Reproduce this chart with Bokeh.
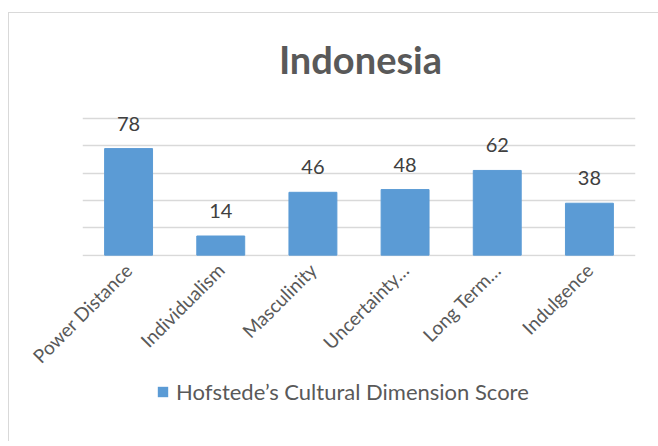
from bokeh.plotting import figure
from bokeh.models import (ColumnDataSource, Range1d, FactorRange, LabelSet, Label,
                          Legend, LegendItem, FixedTicker, Grid)
from bokeh.layouts import column
from bokeh.core.properties import value
from bokeh.embed import file_html
from bokeh.resources import INLINE
import math

categories = ["Power Distance", "Individualism", "Masculinity",
              "Uncertainty…", "Long Term…", "Indulgence"]
scores = [78, 14, 46, 48, 62, 38]
grid_ticks = [0, 20, 40, 60, 80, 100]
series_name = "Hofstede’s Cultural Dimension Score"
title_text = "Indonesia"

FONT = "Lato"
BAR = "#5b9bd5"
TXT = "#595959"

src = ColumnDataSource(dict(cat=categories, val=scores,
                            lab=[str(v) for v in scores]))

# main chart (frame reaches the top of the canvas; title lives inside it)
p = figure(width=650, height=366, x_range=FactorRange(*categories),
           y_range=Range1d(-1, 176.9), y_axis_type=None,
           output_backend="svg", toolbar_location=None,
           min_border_left=73, min_border_right=24,
           min_border_top=0, min_border_bottom=123)
p.outline_line_color = None
p.background_fill_color = "white"
p.border_fill_color = "white"
p.xgrid.grid_line_color = None

p.add_layout(Grid(dimension=1, ticker=FixedTicker(ticks=grid_ticks),
                  grid_line_color="#d9d9d9", grid_line_width=1.3))

r = p.vbar(x="cat", top="val", width=0.52, source=src, color=BAR)

p.xaxis.axis_line_color = None
p.xaxis.major_tick_line_color = None
p.xaxis.minor_tick_line_color = None
p.xaxis.major_label_orientation = math.pi / 4
p.xaxis.major_label_text_font = FONT
p.xaxis.major_label_text_font_size = "19px"
p.xaxis.major_label_text_color = TXT
p.xaxis.major_label_standoff = 4

labels = LabelSet(x="cat", y="val", text="lab", source=src, y_offset=18,
                  text_align="center", text_baseline="alphabetic",
                  text_font=value(FONT), text_font_size=value("20px"),
                  text_color="#404040")
p.add_layout(labels)

p.add_layout(Label(x=3.016, y=143.7, text=title_text, text_align="center",
                   text_baseline="alphabetic", text_font=FONT,
                   text_font_style="bold", text_font_size="38px",
                   text_color=TXT))

# legend strip
p2 = figure(width=650, height=62, x_range=Range1d(0, 1), y_range=Range1d(0, 1),
            x_axis_type=None, y_axis_type=None,
            output_backend="svg", toolbar_location=None,
            min_border_left=73, min_border_right=24,
            min_border_top=0, min_border_bottom=0)
p2.outline_line_color = None
p2.background_fill_color = "white"
p2.border_fill_color = "white"
r2 = p2.vbar(x=[0.5], top=[0], bottom=[0], width=0.0,
             fill_color=BAR, line_color=None)
legend = Legend(items=[LegendItem(label=series_name, renderers=[r2])],
                location=(74, 36), orientation="horizontal",
                padding=0, margin=0, border_line_color=None,
                background_fill_alpha=0, glyph_width=13, glyph_height=13,
                label_height=22, label_standoff=7, label_text_font=FONT,
                label_text_font_size="22px", label_text_color=TXT)
p2.add_layout(legend, "center")

layout = column(p, p2, margin=(12, 0, 0, 8),
                styles={"border-top": "1px solid #d9d9d9",
                        "border-left": "1px solid #d9d9d9"})
open("out.html", "w").write(file_html(layout, INLINE))
